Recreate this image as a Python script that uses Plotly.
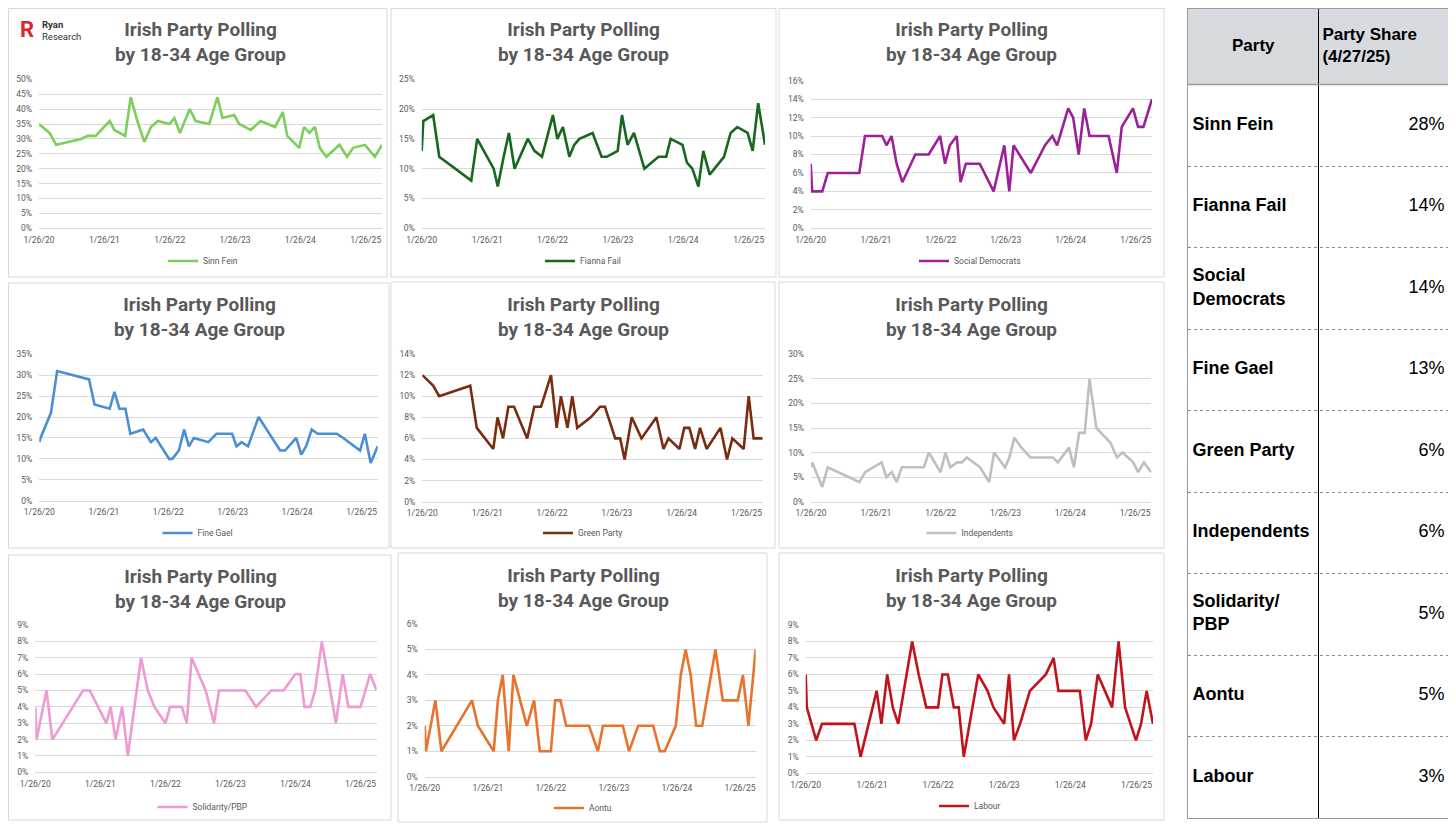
import plotly.graph_objects as go

# ---------------- data ----------------
tick_dates = ["2020-01-26", "2021-01-26", "2022-01-26", "2023-01-26", "2024-01-26", "2025-01-26"]
tick_labels = ["1/26/20", "1/26/21", "1/26/22", "1/26/23", "1/26/24", "1/26/25"]
x_start, x_end = "2020-01-26", "2025-04-27"

sf_dates = ["2020-01-26","2020-03-25","2020-05-01","2020-09-18","2020-10-25","2020-12-08","2021-02-24","2021-03-22","2021-05-22","2021-06-22","2021-07-29","2021-09-06","2021-10-13","2021-11-20","2022-01-24","2022-02-21","2022-03-24","2022-05-18","2022-06-20","2022-09-04","2022-10-20","2022-11-17","2023-01-22","2023-02-18","2023-04-24","2023-06-18","2023-09-07","2023-10-20","2023-11-14","2024-01-20","2024-02-16","2024-03-16","2024-04-17","2024-05-14","2024-06-20","2024-09-01","2024-10-14","2024-11-16","2025-01-22","2025-03-18","2025-04-27"]
sf_vals = [35,32,28,30,31,31,36,33,31,44,36,29,34,36,35,37,32,40,36,35,44,37,38,35,33,36,34,39,31,27,34,32,34,27,24,28,24,27,28,24,28]

ff_dates = ["2020-01-26","2020-02-04","2020-03-30","2020-05-03","2020-10-29","2020-12-01","2021-03-03","2021-03-26","2021-04-28","2021-05-27","2021-06-28","2021-09-10","2021-10-17","2021-11-28","2022-01-28","2022-02-22","2022-03-25","2022-04-30","2022-05-27","2022-06-25","2022-09-07","2022-10-27","2022-11-24","2023-01-25","2023-02-18","2023-03-21","2023-04-26","2023-06-23","2023-09-10","2023-10-23","2023-11-17","2024-01-22","2024-02-16","2024-03-17","2024-04-20","2024-05-17","2024-06-22","2024-09-10","2024-10-17","2024-11-23","2025-01-20","2025-02-17","2025-03-20","2025-04-27"]
ff_vals = [13,18,19,12,8,15,10,7,12,16,10,15,13,12,19,15,17,12,14,15,16,12,12,13,19,14,16,10,12,12,15,14,11,10,7,13,9,12,16,17,16,13,21,14]

sd_dates = ["2020-01-26","2020-02-03","2020-03-31","2020-05-01","2020-10-25","2020-11-26","2021-03-03","2021-03-27","2021-04-24","2021-05-23","2021-06-24","2021-09-05","2021-11-19","2022-01-22","2022-02-19","2022-03-18","2022-04-26","2022-05-17","2022-06-16","2022-09-02","2022-11-19","2023-01-18","2023-02-15","2023-03-11","2023-06-16","2023-09-04","2023-10-15","2023-11-11","2024-01-12","2024-02-09","2024-03-11","2024-04-11","2024-05-11","2024-08-26","2024-10-11","2024-11-08","2025-01-10","2025-02-08","2025-03-10","2025-04-27"]
sd_vals = [7,4,4,6,6,10,10,9,10,7,5,8,8,10,7,9,10,5,7,7,4,9,4,9,6,9,10,9,13,12,8,13,10,10,6,11,13,11,11,14]

fg_dates = ["2020-01-26","2020-02-02","2020-04-01","2020-05-06","2020-11-03","2020-12-04","2021-02-28","2021-03-27","2021-04-24","2021-05-28","2021-06-25","2021-09-06","2021-10-19","2021-11-16","2022-01-31","2022-02-18","2022-03-27","2022-04-26","2022-05-23","2022-06-20","2022-09-10","2022-10-26","2023-01-23","2023-02-17","2023-03-17","2023-04-23","2023-06-22","2023-10-22","2023-11-19","2024-01-21","2024-02-19","2024-03-17","2024-04-18","2024-05-22","2024-09-07","2024-10-14","2025-01-17","2025-02-13","2025-03-18","2025-04-27"]
fg_vals = [14,15,21,31,29,23,22,26,22,22,16,17,14,15,10,10,12,17,13,15,14,16,16,13,14,13,20,12,12,15,11,13,17,16,16,15,12,16,9,13]

gp_dates = ["2020-01-26","2020-03-27","2020-04-30","2020-10-22","2020-11-28","2021-03-01","2021-03-25","2021-04-25","2021-05-25","2021-06-26","2021-09-08","2021-10-18","2021-11-25","2022-01-20","2022-02-21","2022-03-17","2022-04-23","2022-05-20","2022-06-17","2022-09-01","2022-10-24","2022-11-20","2023-01-17","2023-02-14","2023-03-11","2023-04-20","2023-06-14","2023-09-06","2023-10-16","2023-11-13","2024-01-14","2024-02-10","2024-03-10","2024-04-11","2024-05-09","2024-06-15","2024-09-01","2024-10-08","2024-11-07","2025-01-10","2025-02-07","2025-03-07","2025-04-27"]
gp_vals = [12,11,10,11,7,5,8,6,9,9,6,9,9,12,7,10,7,10,7,8,9,9,6,6,4,8,6,8,5,6,5,7,7,5,7,5,7,4,6,5,10,6,6]

ind_dates = ["2020-01-26","2020-02-02","2020-03-29","2020-04-29","2020-10-24","2020-11-26","2021-02-27","2021-03-26","2021-04-25","2021-05-23","2021-06-21","2021-10-23","2021-11-20","2022-01-25","2022-02-22","2022-03-21","2022-04-28","2022-05-26","2022-06-22","2022-09-05","2022-10-26","2022-11-23","2023-01-24","2023-02-17","2023-03-17","2023-04-26","2023-06-16","2023-10-20","2023-11-18","2024-01-19","2024-02-16","2024-03-16","2024-04-17","2024-05-14","2024-06-21","2024-09-09","2024-10-15","2024-11-16","2025-01-15","2025-02-12","2025-03-16","2025-04-27"]
ind_vals = [7,8,3,7,4,6,8,5,6,4,7,7,10,6,10,7,8,8,9,7,4,10,7,9,13,11,9,9,8,11,7,14,14,25,15,12,9,10,8,6,8,6]

pbp_dates = ["2020-01-26","2020-02-02","2020-03-29","2020-05-01","2020-10-20","2020-11-27","2021-02-28","2021-03-24","2021-04-21","2021-05-28","2021-06-29","2021-09-11","2021-10-19","2021-11-25","2022-01-26","2022-02-21","2022-04-28","2022-05-26","2022-06-22","2022-09-09","2022-10-26","2022-11-23","2023-04-21","2023-06-19","2023-09-13","2023-11-21","2024-01-26","2024-02-23","2024-03-17","2024-04-19","2024-05-16","2024-06-23","2024-09-10","2024-10-18","2024-11-19","2025-01-26","2025-02-23","2025-03-21","2025-04-27"]
pbp_vals = [4,2,5,2,5,5,3,4,2,4,1,7,5,4,3,4,4,3,7,5,3,5,5,4,5,5,6,6,4,4,5,8,3,6,4,4,5,6,5]

ao_dates = ["2020-01-26","2020-02-02","2020-03-28","2020-05-02","2020-10-26","2020-11-29","2021-03-01","2021-03-25","2021-04-22","2021-05-27","2021-06-23","2021-09-09","2021-10-21","2021-11-23","2022-01-26","2022-02-20","2022-03-23","2022-04-25","2022-09-04","2022-10-26","2022-11-24","2023-03-19","2023-04-24","2023-06-16","2023-09-11","2023-10-20","2023-11-17","2024-01-20","2024-02-18","2024-03-17","2024-04-15","2024-05-17","2024-06-21","2024-09-06","2024-10-18","2025-01-13","2025-02-12","2025-03-16","2025-04-27"]
ao_vals = [2,1,3,1,3,2,1,3,4,1,4,2,3,1,1,3,3,2,2,1,2,2,1,2,2,1,1,2,4,5,4,2,2,5,3,3,4,2,5]

lab_dates = ["2020-01-26","2020-02-01","2020-03-24","2020-04-25","2020-10-21","2020-11-24","2021-02-21","2021-03-19","2021-04-20","2021-05-21","2021-06-20","2021-09-05","2021-10-11","2021-11-22","2022-01-26","2022-02-19","2022-03-21","2022-04-23","2022-05-20","2022-06-17","2022-09-05","2022-10-26","2022-11-28","2023-01-26","2023-02-22","2023-03-21","2023-04-24","2023-06-17","2023-09-13","2023-10-26","2023-11-22","2024-03-19","2024-04-21","2024-05-20","2024-06-26","2024-09-13","2024-10-19","2024-11-24","2025-01-23","2025-02-20","2025-03-23","2025-04-27"]
lab_vals = [6,4,2,3,3,1,5,3,6,4,3,8,6,4,4,6,6,4,4,1,6,5,4,3,6,2,3,5,6,7,5,5,2,3,6,4,8,4,2,3,5,3]

party_names = ["Sinn Fein", "Fianna Fail", "Social Democrats", "Fine Gael", "Green Party",
               "Independents", "Solidarity/PBP", "Aontu", "Labour"]
party_dates = [sf_dates, ff_dates, sd_dates, fg_dates, gp_dates, ind_dates, pbp_dates, ao_dates, lab_dates]
party_vals = [sf_vals, ff_vals, sd_vals, fg_vals, gp_vals, ind_vals, pbp_vals, ao_vals, lab_vals]
y_max = [50, 25, 16, 35, 14, 30, 9, 6, 9]
y_step = [5, 5, 2, 5, 2, 5, 1, 1, 1]

table_parties = ["Sinn Fein", "Fianna Fail", "Social<br>Democrats", "Fine Gael", "Green Party",
                 "Independents", "Solidarity/<br>PBP", "Aontu", "Labour"]
table_shares = [28, 14, 14, 13, 6, 6, 5, 5, 3]
table_headers = ["Party", "Party Share<br>(4/27/25)"]
chart_title = "Irish Party Polling<br>by 18-34 Age Group"

# ---------------- styles / layout ----------------
# The page body has an 8px margin, so the figure is sized to fit the window
# and reference pixel coordinates are shifted by that offset.
OFF = 8
W, H = 1456 - OFF, 824 - OFF
colors = ["#7CCF5B", "#17681E", "#9C2196", "#4A8FD4", "#7A2C0E",
          "#BFBFBF", "#EF9AD2", "#E8732C", "#C0141A"]

# panel geometry in (reference) pixels
boxes = [(8.5, 8.5, 387, 277), (391, 8.5, 776, 277), (779, 8.5, 1164, 277),
         (8.5, 283, 389, 548), (391, 282, 775, 548), (779, 282, 1164, 548),
         (8.5, 555, 391, 820), (398, 553, 767, 822), (779, 553, 1164, 820)]
plots = [(39, 79.3, 382, 228.3), (421.7, 79.3, 765, 228.3), (810.7, 80.7, 1152, 228.3),
         (39.3, 354.3, 377.7, 500.7), (422.3, 354, 762.7, 501.7), (811, 354.3, 1151.3, 501.7),
         (35.3, 625, 376.7, 772.3), (424.7, 624, 755.7, 776.7), (805.7, 625, 1153, 773.3)]
titles = [(200, 42.5), (583, 42.5), (971, 42.5),
          (199, 316.5), (583, 316.5), (971, 316.5),
          (200, 588.5), (583, 587.5), (971, 587.5)]
legends = [(203, 261), (583, 261), (970, 261),
           (198, 533), (583, 533), (970, 533),
           (203, 807), (583, 808), (970, 806)]

def px(x):
    return (x - OFF) / W

def py(y):
    return 1 - (y - OFF) / H

TXT = "#595959"
FONT = "Roboto"

fig = go.Figure()
layout = dict(width=W, height=H, autosize=False,
              margin=dict(l=0, r=0, t=0, b=0, pad=0, autoexpand=False),
              paper_bgcolor="white", plot_bgcolor="white", showlegend=True)
shapes = []
annotations = []

for i in range(9):
    n = i + 1
    sfx = "" if n == 1 else str(n)
    legkey = "legend" + sfx
    fig.add_trace(go.Scatter(
        x=party_dates[i], y=party_vals[i], mode="lines", name=party_names[i],
        line=dict(color=colors[i], width=2.6), xaxis="x" + sfx, yaxis="y" + sfx,
        legend=legkey, hovertemplate="%{x|%m/%d/%y}: %{y}%<extra></extra>"))
    x0, yt, x1, yb = plots[i]
    layout["xaxis" + sfx] = dict(
        domain=[px(x0), px(x1)], anchor="y" + sfx, type="date", automargin=False,
        range=[x_start, x_end], tickmode="array", tickvals=tick_dates, ticktext=tick_labels,
        showgrid=False, zeroline=False, showline=True, linecolor="#d9d9d9", linewidth=1,
        ticks="", ticklabelstandoff=3,
        tickfont=dict(family=FONT, size=8.5, color=TXT), fixedrange=True)
    layout["yaxis" + sfx] = dict(
        domain=[py(yb), py(yt)], anchor="x" + sfx, range=[0, y_max[i]], automargin=False,
        tickmode="linear", tick0=0, dtick=y_step[i], ticksuffix="%",
        showgrid=True, gridcolor="#d9d9d9", gridwidth=1, zeroline=False, showline=False,
        ticks="", ticklabelstandoff=6,
        tickfont=dict(family=FONT, size=8.5, color=TXT), fixedrange=True)
    lx, ly = legends[i]
    layout[legkey] = dict(x=px(lx), y=py(ly), xanchor="center", yanchor="middle",
                          orientation="h", bgcolor="rgba(0,0,0,0)", itemwidth=30,
                          font=dict(family=FONT, size=8.5, color=TXT))
    bx0, by0, bx1, by1 = boxes[i]
    shapes.append(dict(type="rect", xref="paper", yref="paper",
                       x0=px(bx0), x1=px(bx1), y0=py(by1), y1=py(by0),
                       line=dict(color="#d9d9d9", width=1), fillcolor="rgba(0,0,0,0)"))
    tx, ty = titles[i]
    annotations.append(dict(text=chart_title, x=px(tx), y=py(ty), xref="paper", yref="paper",
                            xanchor="center", yanchor="middle", showarrow=False, align="center",
                            font=dict(family=FONT, size=19, color=TXT, weight="bold")))

# logo
annotations.append(dict(text="R", x=px(27), y=py(29.5), xref="paper", yref="paper",
                        xanchor="center", yanchor="middle", showarrow=False,
                        font=dict(family=FONT, size=22, color="#E0262B", weight="bold")))
annotations.append(dict(text="<b>Ryan</b><br>Research", x=px(40), y=py(30), xref="paper", yref="paper",
                        xanchor="left", yanchor="middle", showarrow=False, align="left",
                        font=dict(family=FONT, size=9.5, color="#333333")))

# ---------------- table (axis 10) ----------------
tx0, ty0, tx1, ty1 = 1188, 8.5, 1449, 818
layout["xaxis10"] = dict(domain=[px(tx0), px(tx1)], anchor="y10", range=[0, 2], automargin=False,
                         tickmode="array", tickvals=[1], showticklabels=False, ticks="",
                         showgrid=True, gridcolor="#000000", gridwidth=1.3, zeroline=False,
                         showline=True, mirror=True, linecolor="#9a9a9a", linewidth=1, fixedrange=True)
layout["yaxis10"] = dict(domain=[py(ty1), py(ty0)], anchor="x10", range=[10, 0], automargin=False,
                         tickmode="array", showticklabels=False, ticks="",
                         showgrid=True, gridcolor="#8a8a8a", gridwidth=1, griddash="dot", zeroline=False,
                         showline=True, mirror=True, linecolor="#9a9a9a", linewidth=1, fixedrange=True)
HDR = 0.94
shapes.append(dict(type="rect", xref="x10", yref="y10", x0=0, x1=2, y0=0, y1=HDR,
                   fillcolor="#D7DBE0", line=dict(width=0), layer="below"))
shapes.append(dict(type="line", xref="x10", yref="y10", x0=0, x1=2, y0=HDR, y1=HDR,
                   line=dict(color="#9a9a9a", width=1.5)))

row_h = (10 - HDR) / len(table_parties)
row_y = [HDR + (i + 0.5) * row_h for i in range(len(table_parties))]
layout["yaxis10"]["tickvals"] = [HDR + k * row_h for k in range(1, len(table_parties))]
fig.add_trace(go.Scatter(x=[0.5], y=[HDR / 2], text=[table_headers[0]], mode="text",
                         textposition="middle center", xaxis="x10", yaxis="y10", showlegend=False,
                         hoverinfo="skip",
                         textfont=dict(family="Liberation Sans", size=17, color="#000000", weight="bold")))
fig.add_trace(go.Scatter(x=[1.03], y=[HDR / 2], text=[table_headers[1]], mode="text",
                         textposition="middle right", xaxis="x10", yaxis="y10", showlegend=False,
                         hoverinfo="skip",
                         textfont=dict(family="Liberation Sans", size=17, color="#000000", weight="bold")))
fig.add_trace(go.Scatter(x=[0.035] * len(table_parties), y=row_y, text=table_parties, mode="text",
                         textposition="middle right", xaxis="x10", yaxis="y10", showlegend=False,
                         hoverinfo="skip",
                         textfont=dict(family="Liberation Sans", size=18, color="#000000", weight="bold")))
fig.add_trace(go.Scatter(x=[1.965] * len(table_shares), y=row_y, text=[f"{v}%" for v in table_shares],
                         mode="text", textposition="middle left", xaxis="x10", yaxis="y10",
                         showlegend=False, hoverinfo="skip",
                         textfont=dict(family="Liberation Sans", size=18, color="#000000")))

layout["shapes"] = shapes
layout["annotations"] = annotations
fig.update_layout(**layout)
fig.write_html("out.html")
